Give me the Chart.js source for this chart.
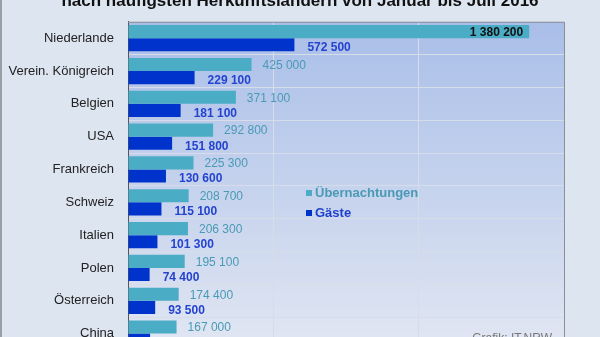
<!DOCTYPE html>
<html lang="de">
<head>
<meta charset="utf-8">
<title>Übernachtungen und Gäste nach Herkunftsländern</title>
<script src="https://cdn.jsdelivr.net/npm/chart.js@4/dist/chart.umd.min.js"></script>
<style>
    html, body { margin: 0; padding: 0; background: #dde5f1; }
    #frame {
        width: 600px;
        height: 337px;
        overflow: hidden;
        position: relative;
        box-sizing: border-box;
        border-left: 2px solid #9a9fa6;
    }
    #wrap { width: 598px; height: 380px; }
</style>
</head>
<body>
<div id="frame">
    <div id="wrap"><canvas id="chart"></canvas></div>
</div>
<script>
// Herkunftsländer (Januar bis Juli 2016)
const laender = ['Niederlande', 'Verein. Königreich', 'Belgien', 'USA', 'Frankreich',
    'Schweiz', 'Italien', 'Polen', 'Österreich', 'China'];
const uebernachtungen = [1380200, 425000, 371100, 292800, 225300, 208700, 206300, 195100, 174400, 167000];
const gaeste = [572500, 229100, 181100, 151800, 130600, 115100, 101300, 74400, 93500, 76000];
const achseTicks = [0, 500000, 1000000, 1500000];

const titel = 'nach häufigsten Herkunftsländern von Januar bis Juli 2016';
const quelle = 'Grafik: IT.NRW';

const farbeUeb = '#4bacc6';
const farbeGae = '#0033cc';

// Zahl mit Leerzeichen als Tausendertrennzeichen
function formatZahl(v) {
    return String(v).replace(/\B(?=(\d{3})+(?!\d))/g, ' ');
}

// Hintergrund der Zeichenfläche (Verlauf) und Titel
const hintergrund = {
    id: 'hintergrund',
    beforeDraw(chart) {
        const { ctx, chartArea: a } = chart;
        const grad = ctx.createLinearGradient(0, a.top, 0, 337);
        grad.addColorStop(0, '#a9bee8');
        grad.addColorStop(1, '#dfe5f2');
        ctx.save();
        ctx.fillStyle = grad;
        ctx.fillRect(a.left, a.top, a.right - a.left, a.bottom - a.top);

        ctx.font = 'bold 17px "Liberation Sans", Arial, sans-serif';
        ctx.fillStyle = '#111';
        ctx.textAlign = 'center';
        ctx.textBaseline = 'alphabetic';
        ctx.fillText(titel, 298, 6);
        ctx.restore();
    }
};

// Werte an den Balken, Legende, Quelle
const beschriftung = {
    id: 'beschriftung',
    afterDatasetsDraw(chart) {
        const { ctx, chartArea: a } = chart;
        ctx.save();
        ctx.textBaseline = 'middle';

        chart.getDatasetMeta(0).data.forEach((bar, i) => {
            const v = uebernachtungen[i];
            if (v > 1000000) {
                ctx.font = 'bold 12px "Liberation Sans", Arial, sans-serif';
                ctx.fillStyle = '#111';
                ctx.textAlign = 'right';
                ctx.fillText(formatZahl(v), bar.x - 6, bar.y + 1);
            } else {
                ctx.font = '12px "Liberation Sans", Arial, sans-serif';
                ctx.fillStyle = '#4a9ab5';
                ctx.textAlign = 'left';
                ctx.fillText(formatZahl(v), bar.x + 11, bar.y + 1);
            }
        });

        chart.getDatasetMeta(1).data.forEach((bar, i) => {
            ctx.font = 'bold 12px "Liberation Sans", Arial, sans-serif';
            ctx.fillStyle = '#2443cf';
            ctx.textAlign = 'left';
            ctx.fillText(formatZahl(gaeste[i]), bar.x + 13, bar.y + 3);
        });

        // Legende
        const lx = a.left + 178;
        const eintraege = [
            { text: 'Übernachtungen', box: farbeUeb, col: '#4a9ab5', y: 193 },
            { text: 'Gäste', box: farbeGae, col: '#1f3fd0', y: 213 }
        ];
        ctx.font = 'bold 13px "Liberation Sans", Arial, sans-serif';
        ctx.textAlign = 'left';
        eintraege.forEach(e => {
            ctx.fillStyle = e.box;
            ctx.fillRect(lx, e.y - 3, 6, 6);
            ctx.fillStyle = e.col;
            ctx.fillText(e.text, lx + 9, e.y);
        });

        // Rahmen oben und rechts
        ctx.strokeStyle = '#8a8f98';
        ctx.lineWidth = 1;
        ctx.beginPath();
        ctx.moveTo(a.left, a.top + 0.5);
        ctx.lineTo(a.right + 0.5, a.top + 0.5);
        ctx.lineTo(a.right + 0.5, a.bottom);
        ctx.stroke();

        ctx.font = '12px "Liberation Sans", Arial, sans-serif';
        ctx.fillStyle = '#777';
        ctx.textAlign = 'right';
        ctx.textBaseline = 'top';
        ctx.fillText(quelle, 550, 333);
        ctx.restore();
    }
};

new Chart(document.getElementById('chart').getContext('2d'), {
    type: 'bar',
    data: {
        labels: laender,
        datasets: [{
            label: 'Übernachtungen',
            data: uebernachtungen,
            backgroundColor: farbeUeb,
            categoryPercentage: 0.8,
            barPercentage: 1.0
        }, {
            label: 'Gäste',
            data: gaeste,
            backgroundColor: farbeGae,
            categoryPercentage: 0.8,
            barPercentage: 1.0
        }]
    },
    options: {
        indexAxis: 'y',
        responsive: true,
        maintainAspectRatio: false,
        animation: false,
        layout: {
            padding: { top: 19, right: 36, bottom: 30, left: 0 }
        },
        plugins: {
            legend: { display: false },
            title: { display: false },
            tooltip: { enabled: false }
        },
        scales: {
            x: {
                min: achseTicks[0],
                max: achseTicks[achseTicks.length - 1],
                afterBuildTicks(scale) {
                    scale.ticks = achseTicks.map(v => ({ value: v }));
                },
                ticks: { display: false },
                grid: { color: '#d6dce8', drawTicks: false },
                border: { display: false }
            },
            y: {
                afterFit(scale) { scale.width = 126; },
                ticks: {
                    color: '#222',
                    padding: 14,
                    font: { family: '"Liberation Sans", Arial, sans-serif', size: 13 }
                },
                grid: { color: '#d6dce8', drawTicks: false, offset: true },
                border: { color: '#555', width: 1 }
            }
        }
    },
    plugins: [hintergrund, beschriftung]
});
</script>
</body>
</html>
